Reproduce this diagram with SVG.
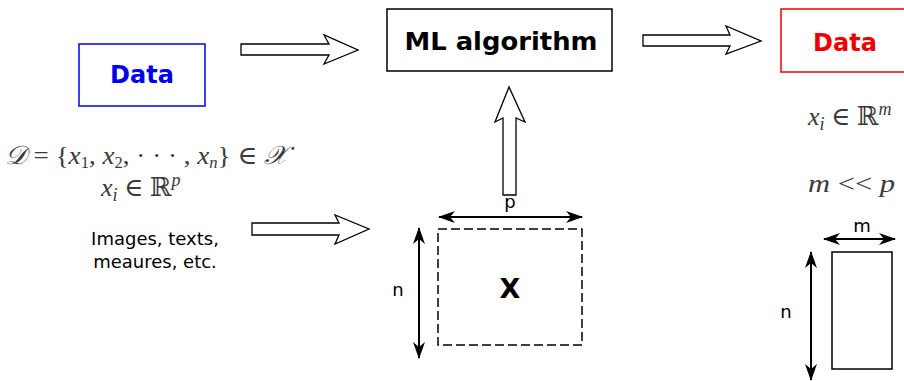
<svg xmlns="http://www.w3.org/2000/svg" width="904" height="381" viewBox="0 0 904 381">
<style>
.box{fill:#fff;stroke-width:1.5}
.bt{font-family:"DejaVu Sans",sans-serif;font-weight:bold;text-anchor:middle}
.lbl{font-family:"DejaVu Sans",sans-serif;font-size:18px;fill:#000;text-anchor:middle}
.blk{fill:#fff;stroke:#000;stroke-width:1.3;stroke-linejoin:miter}
.dim{stroke:#000;stroke-width:2;fill:none}
.math{font-family:"Liberation Serif","DejaVu Serif",serif;fill:#3a3a3a;font-size:26px}
.it{font-style:italic}
</style>
<defs>
<marker id="ah" viewBox="0 0 17 12" refX="16" refY="6" markerWidth="17" markerHeight="12" markerUnits="userSpaceOnUse" orient="auto-start-reverse">
<path d="M0,0 L17,6 L0,12 L5,6 z" fill="#000"/>
</marker>
</defs>

<g id="data-in">
<rect class="box" x="79" y="44" width="126" height="62" stroke="#0000ee"/>
<text class="bt" x="142" y="83" font-size="24" fill="#0000ee">Data</text>
</g>

<g id="ml">
<rect class="box" x="387" y="9" width="225" height="62" stroke="#000"/>
<text class="bt" x="501" y="50" font-size="25" fill="#000" textLength="193" lengthAdjust="spacingAndGlyphs">ML algorithm</text>
</g>

<g id="data-out">
<rect class="box" x="781" y="9" width="140" height="63" stroke="#ee0000"/>
<text class="bt" x="845" y="51" font-size="24" fill="#ee0000">Data</text>
</g>

<g id="math-left">
<text class="math" x="5" y="164" font-size="24" textLength="282" lengthAdjust="spacingAndGlyphs"><tspan class="it">𝒟</tspan> = {<tspan class="it">x</tspan><tspan font-size="16" dy="4">1</tspan><tspan dy="-4">, </tspan><tspan class="it">x</tspan><tspan font-size="16" dy="4">2</tspan><tspan dy="-4">, · · · , </tspan><tspan class="it">x</tspan><tspan font-size="16" dy="4" class="it">n</tspan><tspan dy="-4">} ∈ </tspan><tspan class="it">𝒳</tspan></text>
<text class="math" x="101" y="196"><tspan class="it">x</tspan><tspan font-size="18" dy="5" class="it">i</tspan><tspan dy="-5"> ∈ ℝ</tspan><tspan font-size="18" dy="-10" class="it">p</tspan></text>
<text class="lbl" x="155" y="245">Images, texts,</text>
<text class="lbl" x="155" y="268">meaures, etc.</text>
</g>

<g id="math-right">
<text class="math" x="808" y="125"><tspan class="it">x</tspan><tspan font-size="18" dy="5" class="it">i</tspan><tspan dy="-5"> ∈ ℝ</tspan><tspan font-size="18" dy="-10" class="it">m</tspan></text>
<text class="math" x="808" y="192" font-size="28" textLength="87" lengthAdjust="spacingAndGlyphs"><tspan class="it">m</tspan> &lt;&lt; <tspan class="it">p</tspan></text>
</g>

<g id="matrix-x">
<rect x="438" y="229" width="144" height="116" fill="none" stroke="#000" stroke-width="1.5" stroke-dasharray="9,4"/>
<text class="bt" x="510" y="298" font-size="27" fill="#000">X</text>
<text class="lbl" x="510" y="208">p</text>
<text class="lbl" x="398" y="296">n</text>
</g>

<g id="matrix-small">
<rect x="832" y="252" width="60" height="117" fill="none" stroke="#000" stroke-width="1.5"/>
<text class="lbl" x="862" y="232">m</text>
<text class="lbl" x="786" y="318">n</text>
</g>

<g id="connectors">
<polygon class="blk" points="241,44 329,44 324,35 358,50 324,64 329,55 241,55"/>
<polygon class="blk" points="643,35 730,35 726,26 761,41 726,54 730,46 643,46"/>
<polygon class="blk" points="252,223 339,223 335,215 369,229 335,244 339,235 252,235"/>
<polygon class="blk" points="503,195 503,118 495,122 509,87 525,122 516,118 516,195"/>
<line class="dim" x1="439" y1="217" x2="582" y2="217" marker-start="url(#ah)" marker-end="url(#ah)"/>
<line class="dim" x1="419" y1="228" x2="419" y2="358" marker-start="url(#ah)" marker-end="url(#ah)"/>
<line class="dim" x1="824" y1="239" x2="895" y2="239" marker-start="url(#ah)" marker-end="url(#ah)"/>
<line class="dim" x1="811" y1="252" x2="811" y2="380" marker-start="url(#ah)" marker-end="url(#ah)"/>
</g>
</svg>
